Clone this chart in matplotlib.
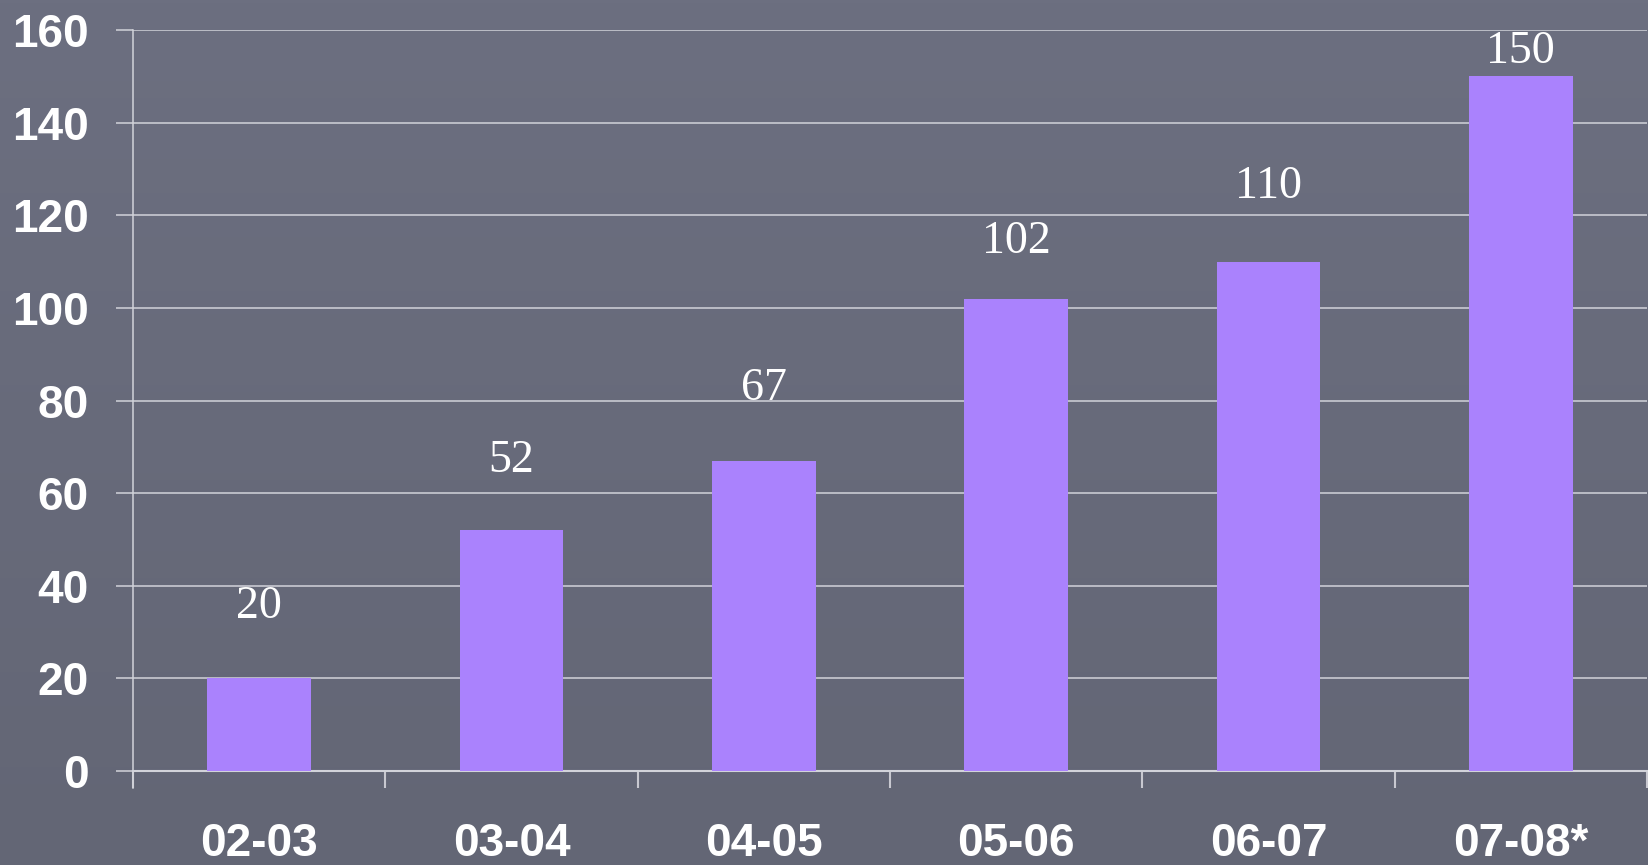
import numpy as np
import matplotlib
matplotlib.use('Agg')
import matplotlib.pyplot as plt

# Данные
categories = ['02-03', '03-04', '04-05', '05-06', '06-07', '07-08*']
values = [20, 52, 67, 102, 110, 150]
yticks = [0, 20, 40, 60, 80, 100, 120, 140, 160]

# Отступы подписей над столбцами (в пикселях)
label_pad = [58, 56, 59, 44, 62, 11]

bg_top = np.array([0x6c, 0x6f, 0x80]) / 255
bg_bot = np.array([0x63, 0x66, 0x75]) / 255
bar_color = '#aa82fd'
grid_color = '#d2d3da'

fig = plt.figure(figsize=(16.48, 8.65), dpi=100)

# Фон с лёгким градиентом
bg = fig.add_axes([0, 0, 1, 1], zorder=-1)
grad = np.linspace(0, 1, 256)[:, None, None]
img = bg_top * (1 - grad) + bg_bot * grad
bg.imshow(img, aspect='auto', extent=[0, 1, 0, 1])
bg.axis('off')

ax = fig.add_axes([133 / 1648, 94 / 865, 1514 / 1648, 741 / 865])
ax.set_facecolor('none')

x = np.arange(len(categories))
ax.bar(x, values, width=0.41, color=bar_color, zorder=3)

ax.set_xlim(-0.5, len(categories) - 0.5)
ax.set_ylim(0, 160)

# Сетка и оси
ax.set_yticks(yticks)
ax.yaxis.grid(True, color=grid_color, linewidth=1.1, zorder=1)
ax.set_axisbelow(True)
for s in ['top', 'right']:
    ax.spines[s].set_visible(False)
ax.spines['left'].set_color(grid_color)
ax.spines['left'].set_linewidth(1.1)
ax.spines['left'].set_bounds(-3.7, 160)
ax.spines['bottom'].set_color(grid_color)
ax.spines['bottom'].set_linewidth(1.5)

ax.set_xticks(np.arange(len(categories) + 1) - 0.5, minor=True)
ax.set_xticks(x)
ax.set_xticklabels(categories, fontsize=33, fontweight='bold', color='white',
                   family='Liberation Sans')
ax.tick_params(axis='x', which='major', length=0, pad=37)
ax.tick_params(axis='x', which='minor', length=12, width=1.5, color='#c8c8d0',
               direction='out')
ax.tick_params(axis='y', length=12, width=1.1, color=grid_color, pad=20)
ax.set_yticklabels([str(v) for v in yticks], fontsize=33, fontweight='bold',
                   color='white', family='Liberation Sans')

# Подписи значений
for xi, v, p in zip(x, values, label_pad):
    ax.annotate(str(v), (xi, v), xytext=(0, (p - 8) * 0.72), textcoords='offset points',
                ha='center', va='bottom', fontsize=33, color='white',
                family='Liberation Serif', annotation_clip=False)

fig.savefig('out.png', dpi=100, facecolor=bg_top)
